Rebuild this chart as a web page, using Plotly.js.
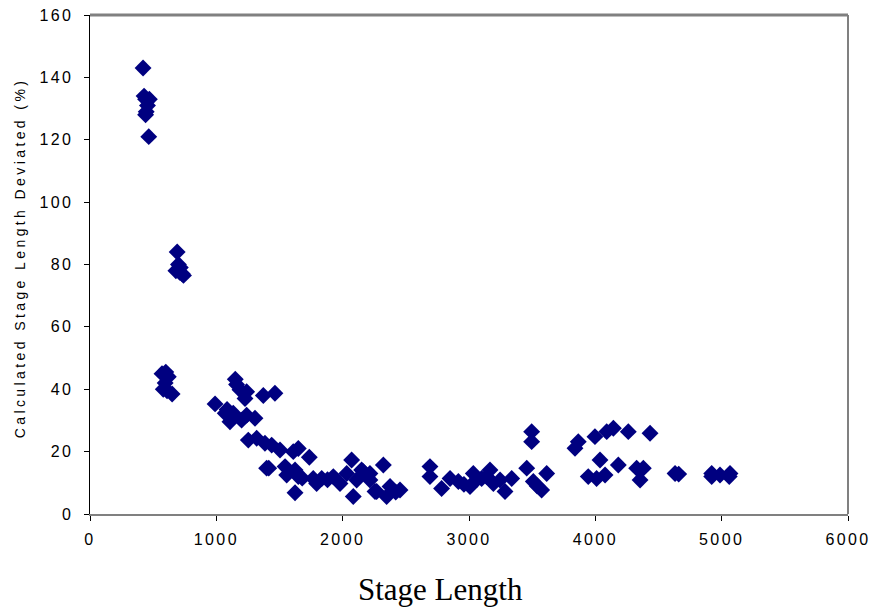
<!DOCTYPE html>
<html>
<head>
<meta charset="utf-8">
<script src="https://cdn.plot.ly/plotly-3.0.1.min.js"></script>
<style>
html,body{margin:0;padding:0;background:#fff;}
#chart{width:873px;height:609px;}
#chart .xtick text, #chart .ytick text { letter-spacing: 2.4px; }
</style>
</head>
<body>
<div id="chart"></div>
<script>
const stageLength = [
  420,428,440,470,455,445,440,465,
  690,700,680,715,730,740,710,
  570,600,620,595,580,610,650,
  990,1070,1085,1108,1134,1150,1160,1187,1200,1227,1240,1240,1306,1372,1464,
  1253,1319,1385,1438,1504,1609,1649,1736,
  1398,1415,1544,1557,1623,1649,1623,1680,1767,1834,1794,1880,1926,1979,2032,2071,2150,2111,2163,2216,2216,2084,2256,2322,2269,2348,2375,2454,2420,
  2691,2691,2783,2850,2916,2960,3008,3034,3060,3100,3140,3166,3193,3246,3285,3338,
  3496,3496,3457,3509,3575,3615,3540,
  3865,3839,3997,4090,4143,4261,4433,4037,4182,3944,4010,4077,4327,4380,4354,4631,4660,4921,4921,4987,5066,5060
];
const deviatedPct = [
  143,134,133,133,131,129,128,121,
  84,80,78,79,77,76.5,77.5,
  45,45.5,44,42,40,39.5,38.5,
  35.3,32.3,33.5,29.6,32.3,43.2,41.5,39.8,30.1,37,39.2,31.7,30.7,38,38.7,
  23.7,24.3,22.7,22.1,20.5,20,21,18.2,
  14.7,14.7,15.2,12.5,14.1,12,6.8,11.5,11.4,11.4,9.8,11,12,9.8,13,17.3,14.1,10.9,13.6,13,10.9,5.6,7.2,15.7,7.2,5.6,8.8,7.7,7,
  15.2,12,8.2,11.4,10.4,9.5,8.8,13,11,11.4,12,14.1,9.8,10.9,7.2,11.4,
  26.4,23.2,14.7,10.4,7.7,13,9,
  23.2,21.1,24.8,26.4,27.5,26.4,25.9,17.3,15.7,12,11.4,12.5,14.7,14.7,10.9,13,12.8,12,13,12.5,13,12
];
const xTicks = [0,1000,2000,3000,4000,5000,6000];
const yTicks = [0,20,40,60,80,100,120,140,160];
const xTitle = 'Stage Length';
const yTitle = 'Calculated Stage Length Deviated (%)';

const trace = {
  x: stageLength, y: deviatedPct, type: 'scatter', mode: 'markers',
  marker: {symbol: 'diamond', size: 13, color: '#000080', line: {width: 0}},
  hoverinfo: 'x+y'
};
const layout = {
  width: 873, height: 609,
  margin: {l: 90, r: 25, t: 15, b: 95},
  paper_bgcolor: '#fff', plot_bgcolor: '#fff',
  showlegend: false,
  xaxis: {
    range: [0, 6000], tickvals: xTicks, ticktext: xTicks.map(String),
    showgrid: false, zeroline: false, showline: true, linecolor: '#808080', linewidth: 2,
    ticks: 'outside', ticklen: 5, tickcolor: '#000', tickwidth: 1, ticklabelstandoff: 5,
    tickfont: {family: 'Liberation Sans, Arial, sans-serif', size: 16, color: '#000'}
  },
  yaxis: {
    range: [0, 160], tickvals: yTicks, ticktext: yTicks.map(String),
    showgrid: false, zeroline: false, showline: true, linecolor: '#000', linewidth: 1.5,
    ticks: 'outside', ticklen: 5, tickcolor: '#000', tickwidth: 1, ticklabelstandoff: 7,
    tickfont: {family: 'Liberation Sans, Arial, sans-serif', size: 16, color: '#000'}
  },
  annotations: [
    {text: yTitle, xref: 'paper', yref: 'paper', x: -0.0923, y: 0.513, xanchor: 'center', yanchor: 'middle',
     textangle: -90, showarrow: false, font: {family: 'Liberation Sans, Arial, sans-serif', size: 14, color: '#000'}},
    {text: xTitle, xref: 'paper', yref: 'paper', x: 0.463, y: -0.152, xanchor: 'center', yanchor: 'middle',
     showarrow: false, font: {family: 'Liberation Serif, Times New Roman, serif', size: 31, color: '#000'}}
  ],
  shapes: [
    {type: 'line', xref: 'paper', yref: 'paper', x0: 0, x1: 1, y0: 1, y1: 1, line: {color: '#808080', width: 3}},
    {type: 'line', xref: 'paper', yref: 'paper', x0: 1, x1: 1, y0: 0, y1: 1, line: {color: '#808080', width: 2}}
  ]
};
Plotly.newPlot('chart', [trace], layout, {displayModeBar: false, staticPlot: true}).then(function () {
  const t = document.querySelectorAll('#chart .annotation-text');
  if (t[0]) t[0].style.letterSpacing = '3.4px';
});
</script>
</body>
</html>
